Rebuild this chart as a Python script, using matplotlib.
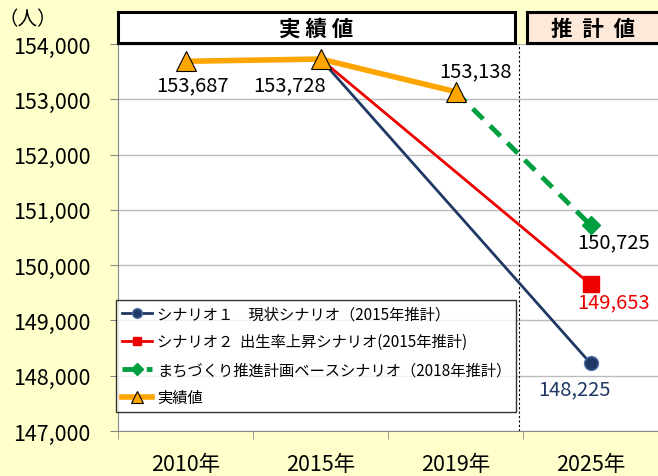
import matplotlib.pyplot as plt
from matplotlib.patches import Rectangle

plt.rcParams['font.family'] = ['Noto Sans CJK JP', 'DejaVu Sans']

years = ["2010年", "2015年", "2019年", "2025年"]
actual = [153687, 153728, 153138]
scen1 = [153728, 148225]
scen2 = [153728, 149653]
scen3 = [153138, 150725]
yticks = list(range(147000, 155000, 1000))

fig = plt.figure(figsize=(6.58, 4.77), dpi=100)
fig.patch.set_facecolor("#FFFFCC")
ax = fig.add_axes([118 / 658, (477 - 432) / 477, 540 / 658, 387 / 477])
ax.set_facecolor("white")

navy = "#1F3864"
red = "#EE0000"
green = "#00A040"
orange = "#FFA500"

ax.plot([1, 3], scen1, color=navy, lw=2, marker="o", ms=10, markevery=[1],
        mfc=navy, mec="#4A6FA5", label="シナリオ１　現状シナリオ（2015年推計）", zorder=3)
ax.plot([1, 3], scen2, color=red, lw=2, marker="s", ms=11, markevery=[1],
        label="シナリオ２  出生率上昇シナリオ(2015年推計)", zorder=3)
ax.plot([2, 3], scen3, color=green, lw=3.5, ls=(0, (3, 2)), marker="D", ms=9, markevery=[1],
        label="まちづくり推進計画ベースシナリオ（2018年推計）", zorder=3)
ax.plot([0, 1, 2], actual, color=orange, lw=4, marker="^", ms=15, mfc=orange,
        mec="black", mew=0.8, label="実績値", zorder=4)

ax.set_xlim(-0.5, 3.5)
ax.set_ylim(147000, 154000)
ax.set_yticks(yticks)
ax.set_yticklabels([f"{v:,}" for v in yticks], fontsize=15.5)
ax.set_xticks([0, 1, 2, 3])
ax.set_xticklabels(years, fontsize=15.5)
ax.set_xticks([-0.5, 0.5, 1.5, 2.5, 3.5], minor=True)
ax.tick_params(axis="x", which="major", length=0, pad=16)
ax.tick_params(axis="x", which="minor", length=6, color="#888888")
ax.tick_params(axis="y", length=6, color="#888888", pad=14)
ax.grid(axis="y", color="#BBBBBB", lw=1)
for s in ["top", "right"]:
    ax.spines[s].set_visible(False)
ax.spines["left"].set_color("#888888")
ax.spines["bottom"].set_color("#888888")
ax.axvline(2.47, color="black", lw=0.8, ls=(0, (2, 2)), zorder=2)
ax.set_axisbelow(True)

ax.text(0.05, actual[0] - 430, f"{actual[0]:,}", fontsize=14.5, ha="center", va="center")
ax.text(0.77, actual[1] - 470, f"{actual[1]:,}", fontsize=14.5, ha="center", va="center")
ax.text(2.15, actual[2] + 370, f"{actual[2]:,}", fontsize=14.5, ha="center", va="center")
ax.text(3.17, scen3[1] - 305, f"{scen3[1]:,}", fontsize=14.5, ha="center", va="center")
ax.text(3.17, scen2[1] - 318, f"{scen2[1]:,}", fontsize=14.5, ha="center", va="center", color=red)
ax.text(2.88, scen1[1] - 464, f"{scen1[1]:,}", fontsize=14.5, ha="center", va="center", color=navy)

leg = ax.legend(loc="lower left", bbox_to_anchor=(-0.003, 0.05), fontsize=11,
                frameon=True, fancybox=False, edgecolor="black", handlelength=2.0,
                borderpad=0.35, labelspacing=0.72, handletextpad=0.3, borderaxespad=0)
leg.get_frame().set_linewidth(1)
for h, ms in zip(leg.legend_handles, [7, 6, 6, 8]):
    h.set_markersize(ms)

fig.text(28 / 658, 1 - 20 / 477, "（人）", fontsize=14, ha="center", va="center")

fig.patches.append(Rectangle((118 / 658, 1 - 44 / 477), 397 / 658, 31 / 477,
                             transform=fig.transFigure, facecolor="white",
                             edgecolor="black", lw=2.2))
fig.patches.append(Rectangle((527 / 658, 1 - 44 / 477), 140 / 658, 31 / 477,
                             transform=fig.transFigure, facecolor="#FDE9D9",
                             edgecolor="black", lw=2.2))
fig.text(316 / 658, 1 - 29 / 477, "実 績 値", fontsize=15.5, fontweight="bold",
         ha="center", va="center")
fig.text(593 / 658, 1 - 29 / 477, "推  計  値", fontsize=15.5, fontweight="bold",
         ha="center", va="center")

fig.savefig("out.png", dpi=100, facecolor=fig.get_facecolor())
